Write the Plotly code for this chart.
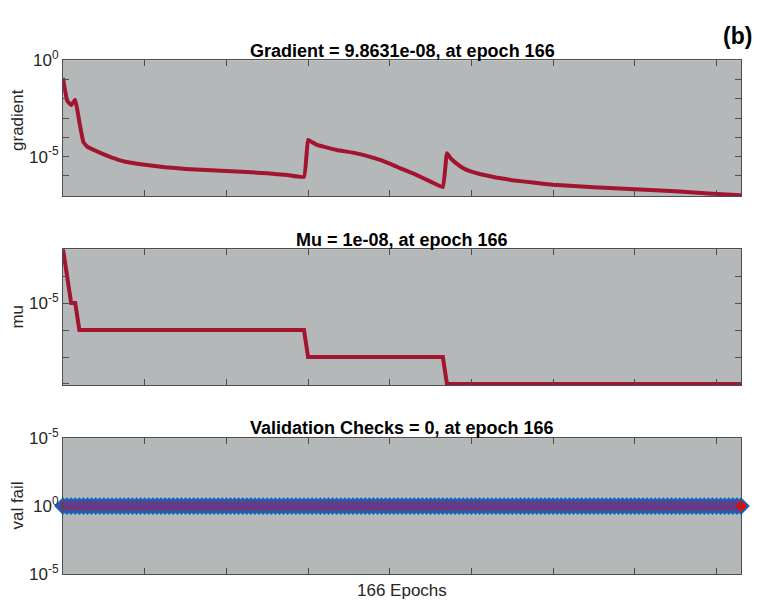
import plotly.graph_objects as go

# ---- training record (Levenberg-Marquardt), 166 epochs ----
N_EPOCHS = 166

grad_epochs = [0, 1, 2, 3, 4, 5, 6, 7, 8, 10, 12, 15, 20, 25, 30, 35, 40, 45,
               50, 55, 59,
               60, 61, 62, 64, 67, 71, 75, 78, 82, 86, 90, 93,
               94, 95, 96, 98, 100, 102, 106, 110, 115, 120, 130, 140, 150,
               159, 166]
grad_values = [1.2e-1, 8.3e-3, 4.7e-3, 8.9e-3, 6.3e-4, 5.6e-5, 3.2e-5, 2.5e-5,
               2.0e-5, 1.3e-5, 8.9e-6, 5.6e-6, 3.8e-6, 2.8e-6, 2.3e-6, 2.0e-6,
               1.8e-6, 1.6e-6, 1.35e-6, 1.12e-6, 8.9e-7,
               7.4e-5, 5.6e-5, 4.2e-5, 3.2e-5, 2.2e-5, 1.6e-5, 1.0e-5, 6.3e-6,
               2.8e-6, 1.26e-6, 5.0e-7, 2.6e-7,
               1.48e-5, 7.9e-6, 5.0e-6, 2.5e-6, 1.66e-6, 1.26e-6, 8.3e-7,
               6.0e-7, 4.5e-7, 3.5e-7, 2.6e-7, 2.0e-7, 1.6e-7, 1.2e-7,
               9.8631e-8]

mu_epochs = [0, 1, 2, 3, 4, 59, 60, 93, 94, 166]
mu_values = [1e-3, 1e-4, 1e-5, 1e-5, 1e-6, 1e-6, 1e-7, 1e-7, 1e-8, 1e-8]

val_epochs = list(range(N_EPOCHS + 1))
val_fail = [0] * (N_EPOCHS + 1)

x_ticks = [0, 20, 40, 60, 80, 100, 120, 140, 160]
grad_tickvals = [1, 1e-1, 1e-2, 1e-3, 1e-4, 1e-5, 1e-6, 1e-7]
grad_ticktext = ["10<sup>0</sup>", "", "", "", "", "10<sup>-5</sup>", "", ""]
mu_tickvals = [1e-3, 1e-4, 1e-5, 1e-6, 1e-7, 1e-8]
mu_ticktext = ["", "", "10<sup>-5</sup>", "", "", ""]
val_tickvals = [-1, 0, 1]
val_ticktext = ["10<sup>-5</sup>", "10<sup>0</sup>", "10<sup>-5</sup>"]

titles = ["Gradient = 9.8631e-08, at epoch 166",
          "Mu = 1e-08, at epoch 166",
          "Validation Checks = 0, at epoch 166"]
ylabels = ["gradient", "mu", "val fail"]

W, H = 760, 611
LINE_RED = "#A2142F"
BG = "#B5B8B8"
FONT = "Liberation Sans, Arial, Helvetica, sans-serif"

# panel boxes in pixels: (top, bottom)
x_left, x_right = 63, 741
panels = [(50, 191), (246, 387), (442, 583)]


def ydom(top, bot):
    return [1 - bot / H, 1 - top / H]


fig = go.Figure()

fig.add_trace(go.Scatter(x=grad_epochs, y=grad_values, mode="lines",
                         line=dict(color=LINE_RED, width=4, shape="spline",
                                   smoothing=0.3),
                         xaxis="x", yaxis="y", showlegend=False))
fig.add_trace(go.Scatter(x=mu_epochs, y=mu_values, mode="lines",
                         line=dict(color=LINE_RED, width=4),
                         xaxis="x2", yaxis="y2", showlegend=False))
# validation failures: overlapping diamonds
fig.add_trace(go.Scatter(x=val_epochs, y=val_fail, mode="markers",
                         marker=dict(symbol="diamond", size=12, color="#1A64B4",
                                     line=dict(color="#0F66C0", width=1.5)),
                         cliponaxis=False,
                         xaxis="x3", yaxis="y3", showlegend=False))
fig.add_trace(go.Scatter(x=val_epochs, y=val_fail, mode="markers",
                         marker=dict(symbol="diamond", size=8, color="#4A4396",
                                     line=dict(color="rgba(200,30,70,0.75)", width=1)),
                         cliponaxis=False,
                         xaxis="x3", yaxis="y3", showlegend=False))
fig.add_trace(go.Scatter(x=[val_epochs[-1]], y=[val_fail[-1]], mode="markers",
                         marker=dict(symbol="diamond", size=9, color="#FF0000",
                                     line=dict(width=0)),
                         cliponaxis=False,
                         xaxis="x3", yaxis="y3", showlegend=False))

axis_common = dict(showline=True, linecolor="#4D4D4D", linewidth=1,
                   mirror="ticks", ticks="inside", ticklen=6,
                   tickcolor="#4D4D4D", showgrid=False, zeroline=False,
                   tickfont=dict(family=FONT, size=17, color="#262626"))

xdom = [x_left / W, x_right / W]
layout = dict(
    width=W, height=H, paper_bgcolor="white", plot_bgcolor=BG,
    margin=dict(l=0, r=0, t=0, b=0),
    font=dict(family=FONT),
)
for i, (top, bot) in enumerate(panels):
    sfx = "" if i == 0 else str(i + 1)
    layout["xaxis" + sfx] = dict(axis_common, domain=xdom, range=[0, N_EPOCHS],
                                 tickvals=x_ticks, showticklabels=False,
                                 anchor="y" + sfx)
    layout["yaxis" + sfx] = dict(axis_common, domain=ydom(top, bot),
                                 anchor="x" + sfx)

layout["yaxis"].update(type="log", range=[-7.05, 0],
                       tickvals=grad_tickvals, ticktext=grad_ticktext)
layout["yaxis2"].update(type="log", range=[-8.04, -3],
                        tickvals=mu_tickvals, ticktext=mu_ticktext)
layout["yaxis3"].update(range=[-1, 1], tickvals=val_tickvals,
                        ticktext=val_ticktext)
fig.update_layout(**layout)

annotations = []
title_y = [40, 236, 432]
label_y = [112, 316, 512]
for i in range(3):
    annotations.append(dict(text="<b>" + titles[i] + "</b>", xref="paper", yref="paper",
                            x=(x_left + x_right) / 2 / W, y=1 - title_y[i] / H,
                            xanchor="center", yanchor="middle", showarrow=False,
                            font=dict(family=FONT, size=18, color="black")))
    annotations.append(dict(text=ylabels[i], xref="paper", yref="paper",
                            x=18 / W, y=1 - label_y[i] / H, textangle=-90,
                            xanchor="center", yanchor="middle", showarrow=False,
                            font=dict(family=FONT, size=17, color="#262626")))
annotations.append(dict(text="166 Epochs", xref="paper", yref="paper",
                        x=(x_left + x_right) / 2 / W, y=1 - 600 / H,
                        xanchor="center", yanchor="middle", showarrow=False,
                        font=dict(family=FONT, size=17, color="#262626")))
annotations.append(dict(text="<b>(b)</b>", xref="paper", yref="paper",
                        x=737 / W, y=1 - 25 / H,
                        xanchor="center", yanchor="middle", showarrow=False,
                        font=dict(family=FONT, size=23, color="black")))
fig.update_layout(annotations=annotations)

fig.write_html("out.html")
